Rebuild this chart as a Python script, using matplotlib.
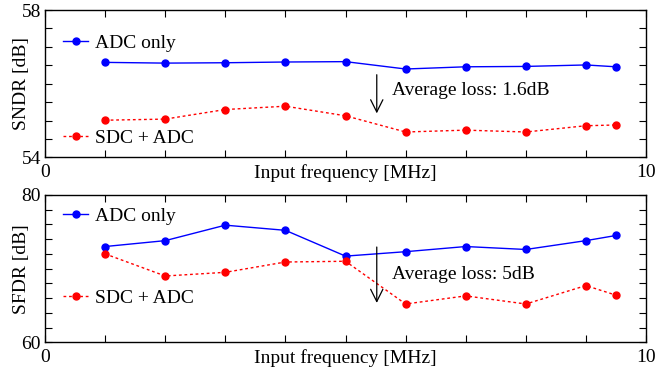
import matplotlib
matplotlib.use('Agg')
import matplotlib.pyplot as plt
from matplotlib.lines import Line2D

plt.rcParams['font.family'] = ['Liberation Serif', 'DejaVu Serif']
plt.rcParams['font.size'] = 14

freq = [1, 2, 3, 4, 5, 6, 7, 8, 9, 9.5]

sndr_adc = [56.58, 56.56, 56.57, 56.59, 56.60, 56.40, 56.46, 56.47, 56.51, 56.46]
sndr_sdc = [55.01, 55.04, 55.30, 55.39, 55.13, 54.69, 54.74, 54.69, 54.86, 54.88]

sfdr_adc = [73.0, 73.8, 75.9, 75.2, 71.7, 72.3, 73.0, 72.6, 73.8, 74.5]
sfdr_sdc = [72.0, 69.0, 69.5, 70.9, 71.0, 65.2, 66.3, 65.2, 67.7, 66.4]

blue = '#0000ff'
red = '#ff0000'


def style_axis(ax, ylim, ystep):
    ax.set_xlim(0, 10)
    ax.set_ylim(*ylim)
    ax.set_xticks(range(0, 11))
    ax.set_xticklabels(['0'] + [''] * 9 + ['10'])
    ax.set_yticks([ylim[0], ylim[1]])
    yminor = []
    v = ylim[0] + ystep
    while v < ylim[1] - 1e-9:
        yminor.append(v)
        v += ystep
    ax.set_yticks(yminor, minor=True)
    ax.tick_params(which='both', direction='in', top=True, right=True, length=5, width=0.8)
    ax.tick_params(axis='x', pad=5)
    ax.tick_params(axis='y', pad=3)
    for s in ax.spines.values():
        s.set_linewidth(1.0)
    ax.annotate('Input frequency [MHz]', xy=(0.5, 0), xycoords='axes fraction',
                xytext=(0, -5), textcoords='offset points', ha='center', va='top')
    ax.yaxis.set_label_coords(-0.025, 0.5)


def add_legends(ax, y_top, y_bot):
    h1 = Line2D([], [], color=blue, lw=1, marker='o', ms=5)
    h2 = Line2D([], [], color=red, lw=1, ls=(0, (2, 2)), marker='o', ms=5)
    kw = dict(frameon=False, handlelength=1.3, handletextpad=0.35, borderpad=0,
              borderaxespad=0, loc='center left')
    leg1 = ax.legend([h1], ['ADC only'], bbox_to_anchor=(0.030, y_top), **kw)
    ax.add_artist(leg1)
    ax.legend([h2], ['SDC + ADC'], bbox_to_anchor=(0.030, y_bot), **kw)


fig = plt.figure(figsize=(6.59, 3.73), dpi=100)
ax1 = fig.add_axes([0.0683, 0.578, 0.912, 0.395])
ax2 = fig.add_axes([0.0683, 0.0823, 0.912, 0.395])

ax1.plot(freq, sndr_adc, color=blue, lw=1, marker='o', ms=5)
ax1.plot(freq, sndr_sdc, color=red, lw=1, ls=(0, (2, 2)), marker='o', ms=5)
style_axis(ax1, (54, 58), 0.5)
ax1.set_ylabel('SNDR [dB]')
add_legends(ax1, 0.776, 0.131)
ax1.annotate('', xy=(5.52, 55.12), xytext=(5.52, 56.32),
             arrowprops=dict(arrowstyle='->', color='black', lw=0.9, mutation_scale=22))
ax1.text(5.77, 55.83, 'Average loss: 1.6dB', va='center', ha='left')

ax2.plot(freq, sfdr_adc, color=blue, lw=1, marker='o', ms=5)
ax2.plot(freq, sfdr_sdc, color=red, lw=1, ls=(0, (2, 2)), marker='o', ms=5)
style_axis(ax2, (60, 80), 2)
ax2.set_ylabel('SFDR [dB]')
add_legends(ax2, 0.857, 0.30)
ax2.annotate('', xy=(5.52, 64.97), xytext=(5.52, 73.31),
             arrowprops=dict(arrowstyle='->', color='black', lw=0.9, mutation_scale=22))
ax2.text(5.77, 69.24, 'Average loss: 5dB', va='center', ha='left')

fig.savefig('out.png', dpi=100)
